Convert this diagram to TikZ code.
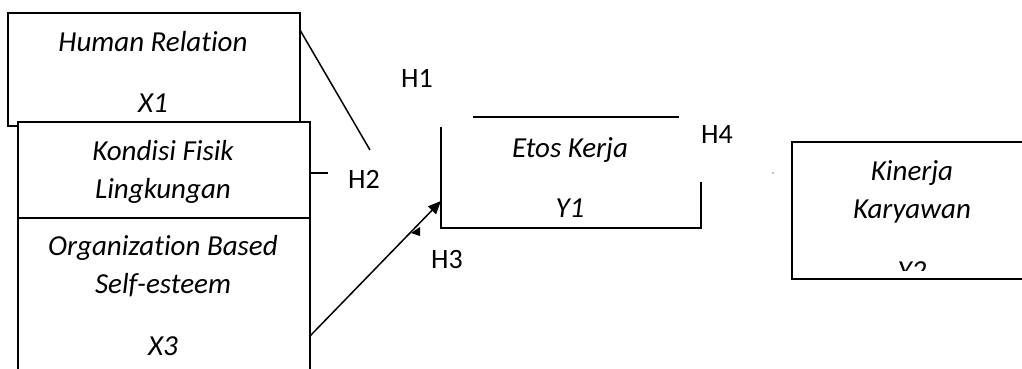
\documentclass[tikz,border=0pt]{standalone}
\usepackage{fontspec}
\setmainfont{Carlito}[Ligatures={NoCommon}]
\usetikzlibrary{arrows.meta}
\tikzset{
  ln/.style={line width=1.5pt, black},
  boxw/.style={ln, fill=white},
  lbl/.style={anchor=base, inner sep=0pt, font=\fontsize{29}{34}\selectfont\itshape},
  hyp/.style={anchor=base, inner sep=0pt, font=\fontsize{28}{34}\selectfont},
}
\begin{document}
\begin{tikzpicture}[x=1pt,y=-1pt]
\useasboundingbox (0,0) rectangle (1022,369);
\clip (0,0) rectangle (1022,369);
% boxes
\draw[boxw] (8,13) rectangle (300,126);
\coordinate (b1tr) at (300,30);
\draw[boxw] (18,122) rectangle (310,218);
\coordinate (b2r) at (310,173);
\draw[boxw] (18,218) rectangle (310,400);
\coordinate (b3r) at (310,336);
% texts
\node[lbl] (hr) at (153,52) {Human Relation};
\node[lbl] (x1) at (153,112) {X1};
\node[lbl] (kf) at (163,160) {Kondisi Fisik};
\node[lbl] (lk) at (163,198) {Lingkungan};
\node[lbl] (ob) at (163,255) {Organization Based};
\node[lbl] (se) at (163,293) {Self-esteem};
\node[lbl] (x3) at (163,355) {X3};
% Etos Kerja box (open)
\coordinate (etl) at (441,127);
\coordinate (ebl) at (441,228);
\coordinate (ebr) at (701,228);
\coordinate (etr) at (701,182);
\coordinate (et1) at (473,117);
\coordinate (et2) at (679,117);
\coordinate (ein) at (441,201);
\draw[ln] (etl) -- (ebl) -- (ebr) -- (etr);
\draw[ln] (et1) -- (et2);
\node[lbl] (ek) at (570,157) {Etos Kerja};
\node[lbl] (y1) at (570,217) {Y1};
% hypotheses
\node[hyp] (h1) at (417,88) {H1};
\node[hyp] (h2) at (364,188) {H2};
\node[hyp] (h3) at (447,268) {H3};
\node[hyp] (h4) at (717,143) {H4};
% connectors
\coordinate (h1e) at (370,150);
\draw[ln] (b1tr) -- (h1e);
\coordinate (h2e) at (328,173);
\draw[ln] (b2r) -- (h2e);
\draw[ln, -{Triangle[length=13pt,width=11pt]}] (b3r) -- (ein);
\fill (411,233) -- (420,227) -- (420,236) -- cycle;
% Kinerja box
\draw[ln] (792,142) rectangle (1040,279);
\node[lbl] (kn) at (912,180) {Kinerja};
\node[lbl] (kw) at (912,218) {Karyawan};
\begin{scope}
\clip (792,140) rectangle (1030,270);
\node[lbl] (y2) at (912,280) {Y2};
\end{scope}
\fill (773,173) circle (0.6pt);
\end{tikzpicture}
\end{document}
